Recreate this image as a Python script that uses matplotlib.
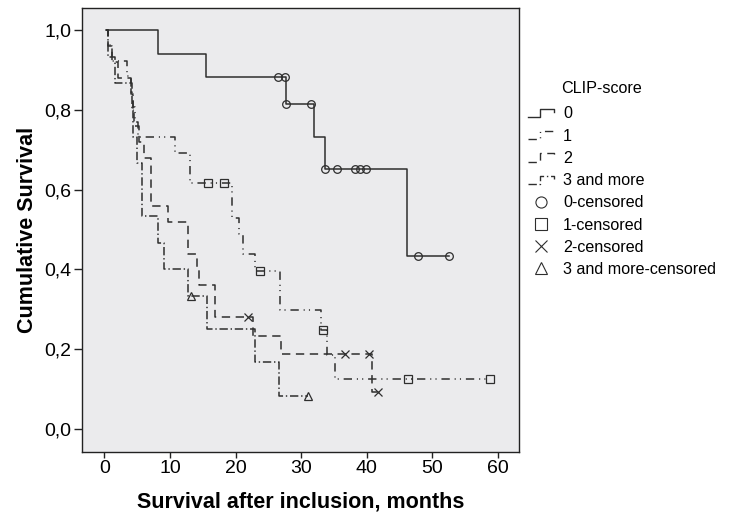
import matplotlib
matplotlib.use("Agg")
import matplotlib.pyplot as plt
from matplotlib.lines import Line2D
from matplotlib.legend_handler import HandlerBase

plt.rcParams['font.family'] = ['Liberation Sans', 'DejaVu Sans']
plt.rcParams['lines.scale_dashes'] = False

# Kaplan-Meier step points (time in months, cumulative survival)
g0_t = [0.3, 8.2, 15.5, 27.7, 31.9, 33.6, 46.2, 52.6]
g0_s = [1.0, 0.941, 0.882, 0.814, 0.733, 0.652, 0.435, 0.435]
g0_ct = [26.4, 27.5, 27.7, 31.5, 33.7, 35.5, 38.2, 39.0, 39.9, 47.8, 52.6]
g0_cs = [0.882, 0.882, 0.814, 0.814, 0.652, 0.652, 0.652, 0.652, 0.652, 0.435, 0.435]

g1_t = [0.3, 0.5, 1.2, 3.5, 4.0, 4.3, 4.7, 5.2, 10.8, 13.1, 19.4, 20.5, 21.2, 23.0, 26.8, 33.0, 34.0, 35.1, 58.8]
g1_s = [1.0, 0.962, 0.923, 0.885, 0.846, 0.808, 0.77, 0.733, 0.693, 0.617, 0.53, 0.49, 0.44, 0.395, 0.298, 0.247, 0.186, 0.124, 0.124]
g1_ct = [15.8, 18.3, 23.8, 33.3, 46.3, 58.8]
g1_cs = [0.617, 0.617, 0.395, 0.247, 0.124, 0.124]

g2_t = [0.3, 0.6, 1.2, 2.1, 4.0, 4.3, 4.6, 5.3, 6.1, 7.1, 9.7, 12.7, 14.1, 14.5, 16.9, 22.6, 27.0, 40.8, 41.7]
g2_s = [1.0, 0.96, 0.92, 0.88, 0.84, 0.80, 0.76, 0.72, 0.68, 0.56, 0.52, 0.44, 0.40, 0.36, 0.28, 0.233, 0.187, 0.093, 0.093]
g2_ct = [21.9, 36.7, 40.4, 41.7]
g2_cs = [0.28, 0.187, 0.187, 0.093]

g3_t = [0.3, 0.5, 1.7, 4.2, 4.4, 5.0, 5.7, 8.2, 9.1, 12.8, 15.6, 23.0, 26.7, 31.0]
g3_s = [1.0, 0.933, 0.867, 0.8, 0.733, 0.667, 0.533, 0.467, 0.4, 0.333, 0.25, 0.167, 0.083, 0.083]
g3_ct = [13.2, 31.0]
g3_cs = [0.333, 0.083]

labels = ['0', '1', '2', '3 and more']
cens_labels = ['0-censored', '1-censored', '2-censored', '3 and more-censored']
x_ticks = [0, 10, 20, 30, 40, 50, 60]
y_ticks = [0.0, 0.2, 0.4, 0.6, 0.8, 1.0]
y_ticklabels = ['0,0', '0,2', '0,4', '0,6', '0,8', '1,0']

col = '#2e2e2e'
styles = ['-', (0, (6, 3.5, 0.8, 3, 0.8, 3.5)), (0, (6, 4)), (0, (6, 2, 1, 2))]
markers = ['o', 's', 'x', '^']

fig = plt.figure(figsize=(7.32, 5.16), dpi=100)
ax = fig.add_axes([0.112, 0.124, 0.597, 0.8605])
ax.set_facecolor('#ebebed')

groups = [(g0_t, g0_s, g0_ct, g0_cs), (g1_t, g1_s, g1_ct, g1_cs),
          (g2_t, g2_s, g2_ct, g2_cs), (g3_t, g3_s, g3_ct, g3_cs)]
for i, (t, s, ct, cs) in enumerate(groups):
    ax.step(t, s, where='post', color=col, lw=1.1, linestyle=styles[i])
    ax.plot(ct, cs, linestyle='none', marker=markers[i], ms=5.5, mfc='none',
            mec=col, mew=0.9)

ax.set_xlim(-3.4, 63.2)
ax.set_ylim(-0.058, 1.056)
ax.set_xticks(x_ticks)
ax.set_yticks(y_ticks)
ax.set_yticklabels(y_ticklabels)
ax.tick_params(labelsize=14, width=1, color='#222222', pad=1.5)
ax.tick_params(axis='x', length=4)
ax.tick_params(axis='y', length=6)
for sp in ax.spines.values():
    sp.set_color('#222222')
    sp.set_linewidth(1)

ax.set_xlabel('Survival after inclusion, months', fontsize=15.5, fontweight='bold', va='center')
ax.set_ylabel('Cumulative Survival', fontsize=15.5, fontweight='bold', va='center')
ax.xaxis.set_label_coords(0.5, -0.112)
ax.yaxis.set_label_coords(-0.124, 0.5)


class StepHandler(HandlerBase):
    def create_artists(self, legend, orig, xd, yd, w, h, fontsize, trans):
        xs = [xd, xd + w * 0.45, xd + w * 0.45, xd + w, xd + w]
        ys = [yd + h * 0.1, yd + h * 0.1, yd + h * 0.85, yd + h * 0.85, yd + h * 0.55]
        ln = Line2D(xs, ys, color=orig.get_color(), lw=1.0, transform=trans)
        ln.set_linestyle(orig.get_linestyle() if orig._dash_pattern[1] is None
                         else (0, orig._dash_pattern[1]))
        return [ln]


handles = []
handler_map = {}
for i in range(4):
    h = Line2D([], [], color=col, linestyle=styles[i])
    handles.append(h)
    handler_map[h] = StepHandler()
for i in range(4):
    handles.append(Line2D([], [], color=col, linestyle='none', marker=markers[i],
                          ms=8, mfc='none', mew=0.8))

fig.text(0.767, 0.828, 'CLIP-score', fontsize=11.6, va='center', ha='left')
fig.legend(handles, labels + cens_labels, handler_map=handler_map,
           loc='upper left', bbox_to_anchor=(0.702, 0.822), frameon=False,
           fontsize=11.6, handlelength=1.6, handletextpad=0.55, labelspacing=0.45)

fig.savefig('out.png', dpi=100)
